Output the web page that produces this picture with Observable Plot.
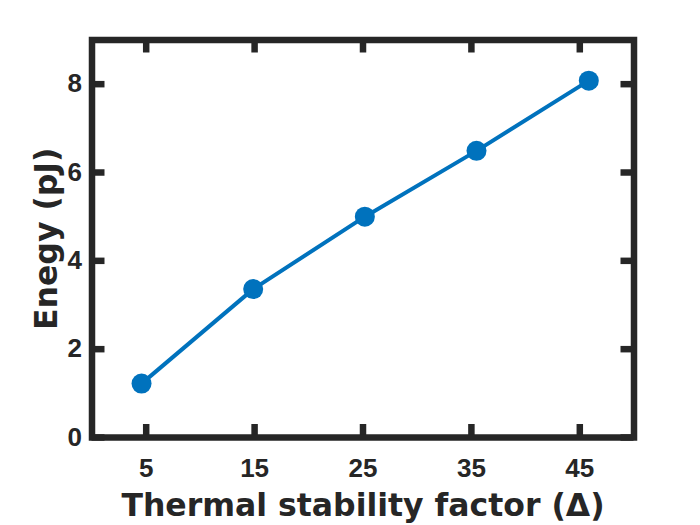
<!DOCTYPE html>
<html><head><meta charset="utf-8">
<script src="https://cdn.jsdelivr.net/npm/d3@7"></script>
<script src="https://cdn.jsdelivr.net/npm/@observablehq/plot@0.6"></script>
<style>body{margin:0;background:#fff}</style>
</head><body><div id="chart"></div>
<script>
const deltaValues = [4.57, 14.87, 25.17, 35.47, 45.83];
const energyValues = [1.22, 3.36, 5.0, 6.49, 8.08];
const xTicks = [5, 15, 25, 35, 45];
const yTicks = [0, 2, 4, 6, 8];
const xLabel = "Thermal stability factor (Δ)";
const yLabel = "Enegy (pJ)";

const data = deltaValues.map((d, i) => ({delta: d, energy: energyValues[i]}));
const W = 700, H = 525, mL = 91.5, mR = 66.5, mT = 39.5, mB = 88;
const pw = W - mL - mR, ph = H - mT - mB;
const ink = "#262626", blue = "#0072BD", tickLen = 13, sw = 6.5;
const tickFont = {fontSize: 26, fontWeight: "bold", fontFamily: "Liberation Sans, Arial, sans-serif", fill: ink};
const labelFont = {fontSize: 31.5, fontWeight: "bold", fontFamily: "DejaVu Sans, Verdana, sans-serif", fill: ink};

const chart = Plot.plot({
  width: W, height: H,
  marginLeft: mL, marginRight: mR, marginTop: mT, marginBottom: mB,
  x: {domain: [0, 50]},
  y: {domain: [0, 9]},
  style: {background: "#fff", color: ink},
  marks: [
    Plot.tickX(xTicks, {x: d => d, insetTop: ph - tickLen, stroke: ink, strokeWidth: sw}),
    Plot.tickX(xTicks, {x: d => d, insetBottom: ph - tickLen, stroke: ink, strokeWidth: sw}),
    Plot.tickY(yTicks, {y: d => d, insetRight: pw - tickLen, stroke: ink, strokeWidth: sw}),
    Plot.tickY(yTicks, {y: d => d, insetLeft: pw - tickLen, stroke: ink, strokeWidth: sw}),
    Plot.frame({stroke: ink, strokeWidth: sw}),
    Plot.axisX(xTicks, {tickSize: 0, tickPadding: 21, label: null, ...tickFont}),
    Plot.axisY(yTicks, {tickSize: 0, tickPadding: 10, label: null, ...tickFont}),
    Plot.line(data, {x: "delta", y: "energy", stroke: blue, strokeWidth: 4}),
    Plot.dot(data, {x: "delta", y: "energy", r: 10, fill: blue}),
    Plot.text([xLabel], {text: d => d, frameAnchor: "bottom", textAnchor: "middle", dy: 68, lineAnchor: "middle", ...labelFont}),
    Plot.text([yLabel], {text: d => d, frameAnchor: "left", textAnchor: "middle", dx: -35, rotate: -90, lineAnchor: "bottom", ...labelFont})
  ]
});
document.getElementById("chart").appendChild(chart);
</script>
</body></html>
